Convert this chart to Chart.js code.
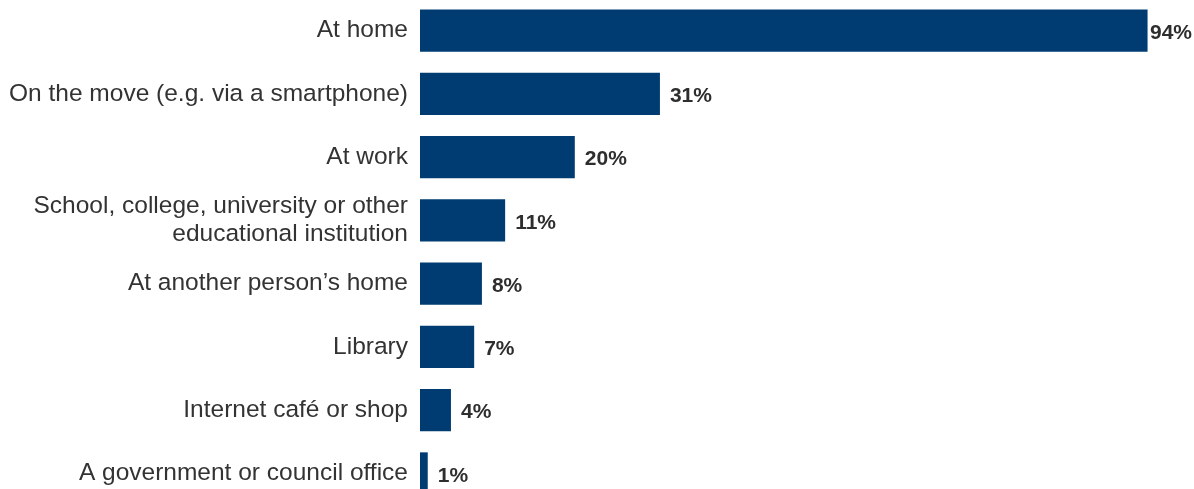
<!DOCTYPE html>
<html>
<head>
<meta charset="utf-8">
<script src="https://cdn.jsdelivr.net/npm/chart.js@4.4.1/dist/chart.umd.min.js"></script>
<style>
  html, body { margin: 0; padding: 0; background: #ffffff; overflow: hidden; width: 1194px; height: 489px; }
  #wrap { position: absolute; left: 0; top: -1px; width: 1194px; height: 506px; }
</style>
</head>
<body>
<div id="wrap"><canvas id="chart" width="1194" height="506"></canvas></div>
<script>
// Where people access the internet (share of respondents, %)
const categories = [
  'At home',
  'On the move (e.g. via a smartphone)',
  'At work',
  ['School, college, university or other', 'educational institution'],
  'At another person\u2019s home',
  'Library',
  'Internet caf\u00e9 or shop',
  'A government or council office'
];
const values = [94, 31, 20, 11, 8, 7, 4, 1];

const FONT = '"Liberation Sans", Arial, Helvetica, sans-serif';
const BAR_COLOR = '#003c71';

// Bold percentage label to the right of each bar, kept inside the canvas
const valueLabels = {
  id: 'valueLabels',
  afterDatasetsDraw(chart) {
    const ctx = chart.ctx;
    const meta = chart.getDatasetMeta(0);
    ctx.save();
    ctx.font = 'bold 21px ' + FONT;
    ctx.fillStyle = '#2e2e2e';
    ctx.textBaseline = 'middle';
    ctx.textAlign = 'left';
    meta.data.forEach((bar, i) => {
      const txt = values[i] + '%';
      const w = ctx.measureText(txt).width;
      let x = bar.x + 10;
      if (x + w > chart.width - 2) x = chart.width - 2 - w;
      ctx.fillText(txt, x, bar.y + 2.5);
    });
    ctx.restore();
  }
};

new Chart(document.getElementById('chart'), {
  type: 'bar',
  data: {
    labels: categories,
    datasets: [{
      data: values,
      backgroundColor: BAR_COLOR,
      borderWidth: 0,
      categoryPercentage: 1,
      barPercentage: 0.665
    }]
  },
  options: {
    indexAxis: 'y',
    responsive: false,
    animation: false,
    layout: { padding: 0 },
    plugins: {
      legend: { display: false },
      tooltip: { enabled: false }
    },
    scales: {
      x: {
        display: false,
        min: 0,
        max: 100
      },
      y: {
        grid: { display: false, drawTicks: false },
        border: { display: false },
        ticks: {
          color: '#333333',
          padding: 12,
          crossAlign: 'near',
          autoSkip: false,
          font: { family: FONT, size: 24.5, lineHeight: 1.15 }
        },
        afterFit(scale) {
          scale.width = 420;
          scale.paddingTop = 0;
          scale.paddingBottom = 0;
        }
      }
    }
  },
  plugins: [valueLabels]
});
</script>
</body>
</html>
